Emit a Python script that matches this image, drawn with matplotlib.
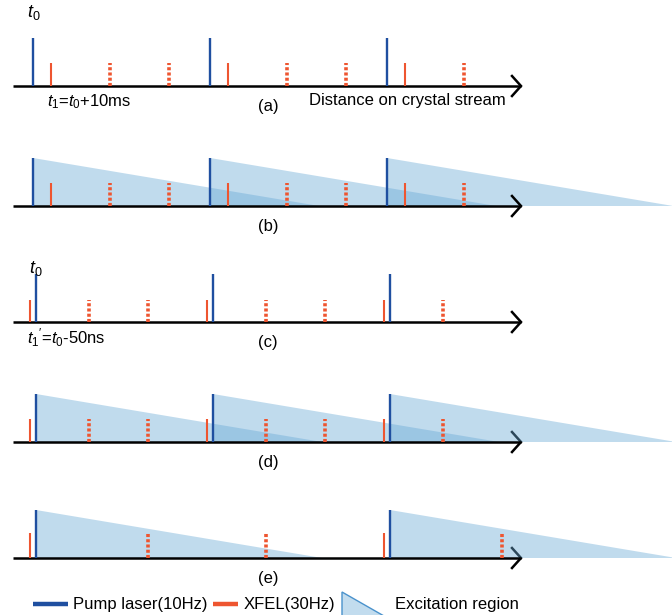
import matplotlib
matplotlib.use("Agg")
import matplotlib.pyplot as plt
from matplotlib.patches import Polygon

plt.rcParams['font.family'] = ['Liberation Sans', 'DejaVu Sans']
plt.rcParams['mathtext.fontset'] = 'custom'
plt.rcParams['mathtext.rm'] = 'Liberation Sans'
plt.rcParams['mathtext.it'] = 'Liberation Sans:italic'

# ---- data (distance along stream, in XFEL-period units) ----
panels = ['(a)', '(b)', '(c)', '(d)', '(e)']
pump_a = [0.0, 3.0, 6.0]
xfel_a = [0.3, 1.3, 2.3, 3.3, 4.3, 5.3, 6.3, 7.3]
solid_a = [0.3, 3.3, 6.3]
pump_c = [0.05, 3.05, 6.05]
xfel_c = [-0.05, 0.95, 1.95, 2.95, 3.95, 4.95, 5.95, 6.95]
solid_c = [-0.05, 2.95, 5.95]
pump_e = [0.05, 6.05]
xfel_e = [-0.05, 1.95, 3.95, 5.95, 7.95]
solid_e = [-0.05, 5.95]
pump_height = 1.0
xfel_height = [0.48, 0.48, 0.46, 0.48, 0.52]
excitation_length = 4.85
legend_labels = ['Pump laser(10Hz)', 'XFEL(30Hz)', 'Excitation region']

config = [
    (pump_a, xfel_a, solid_a, False),
    (pump_a, xfel_a, solid_a, True),
    (pump_c, xfel_c, solid_c, False),
    (pump_c, xfel_c, solid_c, True),
    (pump_e, xfel_e, solid_e, True),
]

BLUE = '#1f4fa0'
RED = '#ee5530'
TRI = '#6aaad6'

W, H = 672, 615
fig = plt.figure(figsize=(W / 100, H / 100), dpi=100)

PX_U = 59.0   # pixels per unit
X0 = 33.0     # pixel of u=0
PX_Y = 48.0   # pixels per height unit
baselines = [86, 206, 322, 442, 558]
above, below = 65, 35

for i, (pumps, xfels, solids, excite) in enumerate(config):
    b = baselines[i]
    ax = fig.add_axes([0, (H - (b + below)) / H, 1, (above + below) / H])
    ax.set_xlim(-X0 / PX_U, (W - X0) / PX_U)
    ax.set_ylim(-below / PX_Y, above / PX_Y)
    ax.axis('off')
    ax.patch.set_alpha(0)

    x_start = (13 - X0) / PX_U
    x_tip = (521 - X0) / PX_U
    ax.plot([x_start, x_tip], [0, 0], color='black', lw=1.8, zorder=5,
            solid_capstyle='butt')
    tri_on_top = i >= 3
    ax.plot([x_tip - 9 / PX_U, x_tip, x_tip - 9 / PX_U],
            [10 / PX_Y, 0, -10 / PX_Y], color='black', lw=1.8,
            zorder=1 if tri_on_top else 5, solid_joinstyle='miter')

    if excite:
        for p in pumps:
            poly = Polygon([(p, 0), (p, pump_height), (p + excitation_length, 0)],
                           closed=True, facecolor=TRI, edgecolor='none',
                           alpha=0.42, zorder=3)
            ax.add_patch(poly)

    for p in pumps:
        ax.plot([p, p], [0, pump_height], color=BLUE, lw=1.7, zorder=7,
                solid_capstyle='butt')
    for x in xfels:
        if x in solids:
            ax.plot([x, x], [0, xfel_height[i]], color=RED, lw=1.5, zorder=6,
                    solid_capstyle='butt')
        else:
            ax.plot([x, x], [0, xfel_height[i]], color=RED, lw=2.6, zorder=6,
                    linestyle=(0, (0.85, 0.6)), dash_capstyle='butt')

    ax.text((268 - X0) / PX_U, -21 / PX_Y, panels[i], ha='center', va='center',
            fontsize=12)


def ftext(x, y, s, **kw):
    fig.text(x / W, 1 - y / H, s, **kw)


ftext(27, 13, r'$t_{\mathit{0}}$', fontsize=13, va='center', ha='left')
ftext(47, 102, r'$t_{\mathit{1}}$=$t_{\mathit{0}}$+10ms', fontsize=12, va='center', ha='left')
ftext(309, 101, 'Distance on crystal stream', fontsize=12, va='center', ha='left')
ftext(29, 268, r'$t_{\mathit{0}}$', fontsize=13, va='center', ha='left')
ftext(27, 338, r"$t_{\mathit{1}}{}^{\prime}$=$t_{\mathit{0}}$-50ns", fontsize=12, va='center', ha='left')

# legend (overlay in pixel coordinates)
lax = fig.add_axes([0, 0, 1, 1])
lax.set_xlim(0, W)
lax.set_ylim(H, 0)
lax.axis('off')
lax.patch.set_alpha(0)
lax.plot([33, 68], [604, 604], color=BLUE, lw=3.2, solid_capstyle='butt')
lax.text(73, 605, legend_labels[0], fontsize=12, va='center', ha='left')
lax.plot([213, 238], [604, 604], color=RED, lw=3.2, solid_capstyle='butt')
lax.text(244, 605, legend_labels[1], fontsize=12, va='center', ha='left')
lax.add_patch(Polygon([(342, 592), (384, 616), (342, 616)], closed=True,
                      facecolor='#c2dcee', edgecolor='#4a92cc', lw=1.0,
                      clip_on=False))
lax.text(395, 605, legend_labels[2], fontsize=12, va='center', ha='left')

fig.savefig('out.png', dpi=100)
